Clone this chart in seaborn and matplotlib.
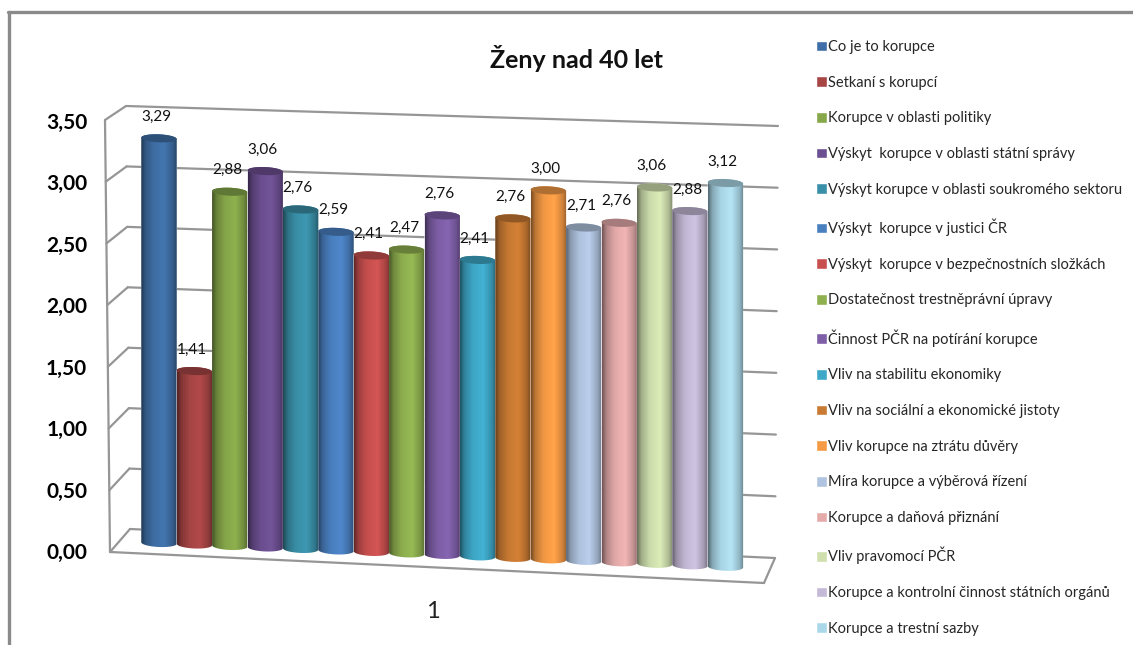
import numpy as np
import pandas as pd
import matplotlib
matplotlib.use("Agg")
import matplotlib.pyplot as plt
import seaborn as sns
from matplotlib.lines import Line2D
from matplotlib.path import Path
from matplotlib.patches import PathPatch
from matplotlib.transforms import Affine2D, IdentityTransform

kategorie = [
    "Co je to korupce", "Setkaní s korupcí", "Korupce v oblasti politiky",
    "Výskyt  korupce v oblasti státní správy", "Výskyt korupce v oblasti soukromého sektoru",
    "Výskyt  korupce v justici ČR", "Výskyt  korupce v bezpečnostních složkách",
    "Dostatečnost trestněprávní úpravy", "Činnost PČR na potírání korupce",
    "Vliv na stabilitu ekonomiky", "Vliv na sociální a ekonomické jistoty",
    "Vliv korupce na ztrátu důvěry", "Míra korupce a výběrová řízení",
    "Korupce a daňová přiznání", "Vliv pravomocí PČR",
    "Korupce a kontrolní činnost státních orgánů", "Korupce a trestní sazby",
]
hodnoty = [3.29, 1.41, 2.88, 3.06, 2.76, 2.59, 2.41, 2.47, 2.76, 2.41, 2.76, 3.00, 2.71, 2.76, 3.06, 2.88, 3.12]
barvy = [
    "#3F6FA6", "#A84545", "#86A74A", "#6C4F91", "#3A90A8", "#4A80C0", "#C8504F", "#8FB04F", "#7F5FA8",
    "#3FA8C8", "#C97A33", "#F59A45", "#B0C4E0", "#E5ABAB", "#CFDFAE", "#C4B9D6", "#ABD8E8",
]
osa_y = [0, 0.5, 1, 1.5, 2, 2.5, 3, 3.5]

W, H = 1133, 645
sns.set_theme(style="white")
plt.rcParams["font.family"] = ["Lato", "DejaVu Sans"]

fig = plt.figure(figsize=(W / 100, H / 100), dpi=100, facecolor="white")
# osa v pixelech: 0 je na y=551, 3,5 na y=120.5
ax = fig.add_axes([108 / W, (H - 551) / H, 667 / W, 430.5 / H], facecolor="none")

df = pd.DataFrame({"kategorie": kategorie, "hodnota": hodnoty})
sns.barplot(data=df, x="kategorie", y="hodnota", hue="kategorie", palette=barvy,
            width=1.0, saturation=1, legend=False, ax=ax)
sloupce = list(ax.patches)

# sklon podlahy - posun v pixelech obrazku
sklon = 0.042
naklon = Affine2D.from_values(1, -sklon, 0, 1, 0, 8 + sklon * 159)
tr = ax.transData + naklon


def px(x, y):
    return x, H - y


def cara(x0, y0, x1, y1):
    a, b = px(x0, y0), px(x1, y1)
    fig.add_artist(Line2D([a[0], b[0]], [a[1], b[1]], transform=IdentityTransform(),
                          color="#969696", lw=1.6, zorder=0))


# ramecek obrazku
for a in [(8, 12, 1133, 12), (9, 12, 9, 645)]:
    p, q = px(a[0], a[1]), px(a[2], a[3])
    fig.add_artist(Line2D([p[0], q[0]], [p[1], q[1]], transform=IdentityTransform(),
                          color="#8a8a8a", lw=2.4, zorder=0))

# steny a mrizka
cara(105, 120, 110, 552)
cara(110, 552, 764, 583)
cara(764, 583, 775, 558)
for v in osa_y:
    t = v / 3.5
    fx, fy = 110 - 5 * t, 552 - 432 * t
    bx, by = 130 - 4 * t, 529 - 423 * t
    rx, ry = 775 + 3 * t, 558 - 432 * t
    cara(fx, fy, bx, by)
    cara(bx, by, rx, ry)

# stin valce zleva doprava
profil = np.interp(np.linspace(0, 1, 64), [0, 0.12, 0.35, 0.65, 0.88, 1], [0.5, 0.78, 0.98, 1.06, 0.85, 0.62])
e = 4 / 123
for i, bar in enumerate(sloupce):
    x0, w, v = bar.get_x(), bar.get_width(), bar.get_height()
    x1 = x0 + w
    xc = x0 + w / 2
    barva = np.array(bar.get_facecolor()[:3])
    t = np.linspace(0, np.pi, 30)
    dolni = np.column_stack([xc - np.cos(t) * w / 2, -np.sin(t) * e])
    horni = np.column_stack([xc + np.cos(t) * w / 2, v + np.sin(t) * e])
    obrys = Path(np.vstack([dolni, horni, dolni[:1]]), closed=True)
    bar.set_transform(tr)
    bar.set_zorder(3 + i)
    bar.set_clip_box(fig.bbox)
    bar.set_clip_path(obrys, transform=tr)
    obraz = np.clip(profil[None, :, None] * barva[None, None, :], 0, 1)
    im = ax.imshow(obraz, extent=(x0, x1, -e, v + e), aspect="auto", interpolation="bilinear",
                   zorder=3 + i, origin="lower")
    im.set_transform(tr)
    im.set_clip_box(fig.bbox)
    im.set_clip_path(obrys, transform=tr)
    t2 = np.linspace(0, 2 * np.pi, 60)
    vrch = np.column_stack([xc + np.cos(t2) * w / 2, v + np.sin(t2) * e])
    ax.add_patch(PathPatch(Path(vrch, closed=True), facecolor=barva * 0.72, edgecolor="none",
                           transform=tr, zorder=3 + i + 0.5, clip_on=False))
    ax.annotate(f"{v:.2f}".replace(".", ","), xy=(xc, v), xycoords=tr, xytext=(-2, 15.5),
                textcoords="offset points", ha="center", va="center", fontsize=11,
                color="#111111", zorder=40)

ax.set_xlim((108 - 159) / 35.4, (775 - 159) / 35.4)
ax.set_ylim(0, 3.5)
ax.set_yticks(osa_y)
ax.set_yticklabels([f"{v:.2f}".replace(".", ",") for v in osa_y], fontsize=15, fontweight="bold", color="black")
ax.tick_params(axis="y", length=0, pad=15)
ax.set_xticks([])
ax.set_ylabel("")
ax.set_xlabel("1", fontsize=17, color="#222222")
ax.xaxis.set_label_coords((433 - 108) / 667, (551 - 601) / 430.5)
sns.despine(ax=ax, left=True, bottom=True)
ax.set_title("Ženy nad 40 let", fontsize=18, fontweight="bold", color="#111111",
             x=(577 - 108) / 667, y=(551 - 76) / 430.5)

leg = fig.legend(handles=sloupce, labels=kategorie, loc="upper left",
                 bbox_to_anchor=(816 / W, (H - 40) / H), frameon=False, fontsize=10.5,
                 handlelength=0.75, handleheight=0.75, handletextpad=0.05,
                 labelspacing=1.488, borderaxespad=0, borderpad=0)

fig.savefig("out.png", dpi=100)
